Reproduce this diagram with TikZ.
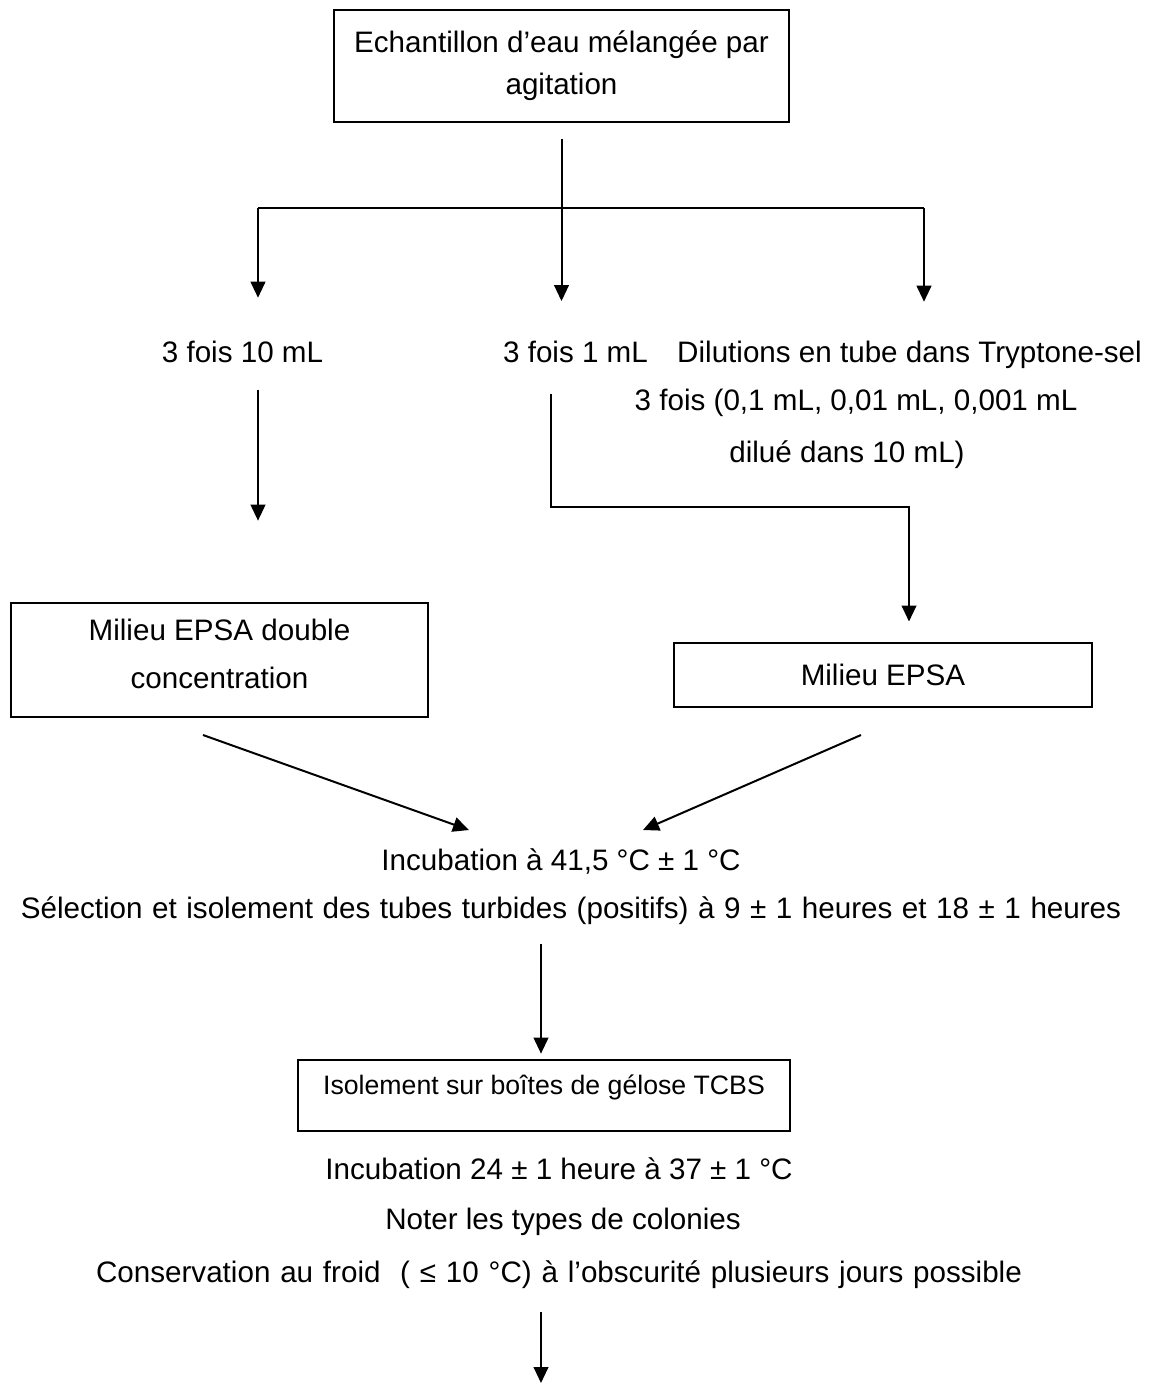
\documentclass[tikz,border=0pt]{standalone}
\usepackage{fontspec}
\setmainfont{Liberation Sans}
\usetikzlibrary{arrows.meta}

\tikzset{every picture/.style={line width=1.5pt},
	fleche/.style={-{Triangle[length=12pt,width=11pt]}},
	txt/.style={inner sep=0pt, align=center, font=\fontsize{22.2}{36}\selectfont},
	ligne/.style={txt, text height=15.6pt, text depth=4.8pt},
	boite/.style={txt, draw, line width=1.5pt}
}
\newcommand{\largeesp}[1]{\spaceskip=\dimexpr\fontdimen2\font+#1\relax}

\begin{document}
\begin{tikzpicture}[x=0.75pt,y=0.75pt,yscale=-1,xscale=1]
		\useasboundingbox (0,0) rectangle (1151,1385);
		
		%Shape: Rectangle
		\node (ech) at (561.5,66) [boite, minimum width=341.25pt, minimum height=84pt, font=\fontsize{22.2}{31.5}\selectfont] {Echantillon d’eau mélangée par\\agitation};
		
		% Text Node
		\node (dix) at (242.5,355) [ligne] {3 fois 10 mL};
		% Text Node
		\node (un) at (575.5,355) [ligne] {3 fois 1 mL};
		% Text Node
		\node (dil) at (909.5,355) [ligne] {Dilutions en tube dans Tryptone-sel};
		% Text Node
		\node (dilb) at (856,403) [ligne] {3 fois (0,1 mL, 0,01 mL, 0,001 mL};
		% Text Node
		\node (dilc) at (847,455) [ligne] {dilué dans 10 mL)};
		
		%Shape: Rectangle
		\node (epsad) at (219.5,660) [boite, minimum width=312.75pt, minimum height=85.5pt, text depth=9pt] {Milieu EPSA double\\concentration};
		%Shape: Rectangle
		\node (epsa) at (883,674.5) [boite, minimum width=313.5pt, minimum height=48pt] {Milieu EPSA};
		
		% Text Node
		\node (inc) at (561,863) [ligne] {Incubation à 41,5 °C ± 1 °C};
		% Text Node
		\node (sel) at (571,911) [ligne] {\largeesp{1pt}Sélection et isolement des tubes turbides (positifs) à 9 ± 1 heures et 18 ± 1 heures};
		
		%Shape: Rectangle
		\node (tcbs) at (544,1095.5) [boite, minimum width=369pt, minimum height=53.25pt, font=\fontsize{20}{24}\selectfont, text depth=16pt] {Isolement sur boîtes de gélose TCBS};
		
		% Text Node
		\node (incb) at (559,1172) [ligne] {Incubation 24 ± 1 heure à 37 ± 1 °C};
		% Text Node
		\node (noter) at (563,1222) [ligne] {Noter les types de colonies};
		% Text Node
		\node (cons) at (559,1275) [ligne] {\largeesp{1.2pt}Conservation au froid \ ( ≤ 10 °C) à l’obscurité plusieurs jours possible};
		
		\coordinate (bg) at (258,208);
		\coordinate (bd) at (924,208);
		\coordinate (cm) at (551,507);
		\coordinate (cd) at (909,507);
		\coordinate (dg) at (203,735);
		\coordinate (ag) at (469,830);
		\coordinate (dd) at (861,735);
		\coordinate (ad) at (643,830);
		\coordinate (fin) at (541,1383);
		
		%Straight Lines
		\draw [fleche, shorten <=12pt, shorten >=29.5pt] (ech.south) -- (ech.south |- un.north);
		%Straight Lines
		\draw (bg) -- (bd);
		%Straight Lines
		\draw [fleche, shorten >=32pt] (bg) -- (bg |- dix.north);
		%Straight Lines
		\draw [fleche, shorten >=29pt] (bd) -- (bd |- dil.north);
		%Straight Lines
		\draw [fleche, shorten <=15pt, shorten >=61pt] (bg |- dix.south) -- (bg |- epsad.north);
		%Straight Lines
		\draw [fleche, shorten <=18pt, shorten >=15pt] (cm |- un.south) -- (cm) -- (cd) -- (cd |- epsa.north);
		%Straight Lines
		\draw [fleche] (dg) -- (ag);
		%Straight Lines
		\draw [fleche] (dd) -- (ad);
		%Straight Lines
		\draw [fleche, shorten <=14pt, shorten >=4pt] (fin |- sel.south) -- (fin |- tcbs.north);
		%Straight Lines
		\draw [fleche, shorten <=17pt] (fin |- cons.south) -- (fin);
		
\end{tikzpicture}
\end{document}
